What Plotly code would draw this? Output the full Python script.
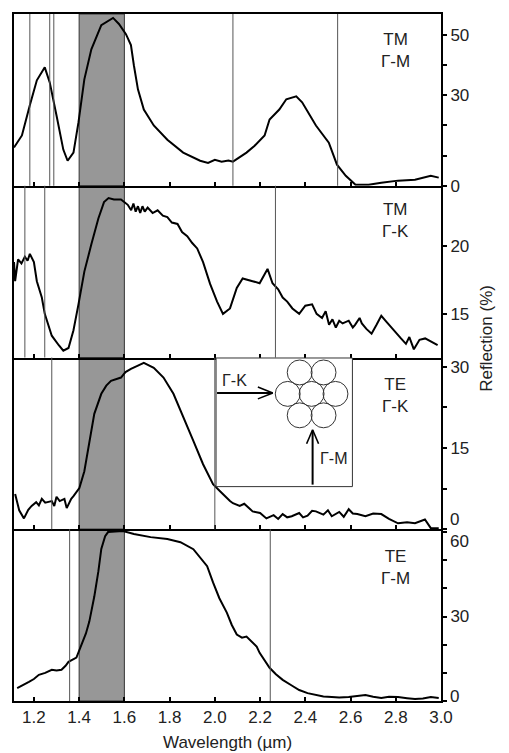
import plotly.graph_objects as go
from plotly.subplots import make_subplots

# ---------------- data ----------------
wl1 = [1.112, 1.147, 1.182, 1.213, 1.248, 1.27, 1.30, 1.33, 1.349, 1.375, 1.397, 1.423, 1.454, 1.498,
       1.55, 1.576, 1.607, 1.629, 1.642, 1.66, 1.686, 1.73, 1.79, 1.86, 1.935, 1.97, 2.0, 2.03, 2.06,
       2.08, 2.14, 2.176, 2.22, 2.242, 2.285, 2.316, 2.36, 2.386, 2.447, 2.504, 2.54, 2.579, 2.622,
       2.68, 2.736, 2.81, 2.885, 2.955, 2.99]
r1 = [12.7, 16.7, 26.7, 35.0, 39.3, 34.3, 23.3, 12.0, 8.3, 11.0, 21.0, 35.3, 45.3, 53.3,
      55.7, 53.7, 50.3, 46.7, 40.0, 32.0, 25.3, 20.0, 15.3, 11.0, 8.3, 7.6, 8.6, 8.0, 8.4,
      8.0, 11.0, 13.3, 16.7, 22.0, 25.3, 28.7, 29.7, 27.7, 20.0, 14.3, 7.0, 3.3, 0.3,
      0.3, 1.0, 1.7, 2.0, 3.3, 2.7]

wl2 = [1.112, 1.117, 1.13, 1.145, 1.16, 1.172, 1.182, 1.2, 1.213, 1.235, 1.248, 1.27, 1.279, 1.31,
       1.33, 1.353, 1.366, 1.375, 1.397, 1.423, 1.454, 1.485, 1.51, 1.53, 1.554, 1.585, 1.615,
       1.63, 1.64, 1.65, 1.66, 1.67, 1.68, 1.69, 1.703, 1.725, 1.747, 1.77, 1.79, 1.81, 1.835,
       1.855, 1.878, 1.9, 1.922, 1.948, 1.979, 2.01, 2.036, 2.067, 2.097, 2.123, 2.167, 2.198,
       2.233, 2.255, 2.28, 2.3, 2.32, 2.343, 2.373, 2.4, 2.43, 2.45, 2.474, 2.49, 2.505, 2.52,
       2.535, 2.55, 2.565, 2.592, 2.61, 2.62, 2.64, 2.65, 2.67, 2.693, 2.715, 2.736, 2.76, 2.78,
       2.8, 2.823, 2.845, 2.86, 2.88, 2.905, 2.93, 2.96, 2.985]
r2 = [18.8, 17.4, 19.0, 18.7, 19.2, 18.9, 19.4, 18.8, 17.4, 16.2, 15.0, 13.8, 13.4, 12.7,
      12.3, 12.5, 13.3, 13.8, 15.7, 18.1, 20.1, 22.0, 23.2, 23.5, 23.4, 23.4, 23.0,
      22.6, 23.1, 22.5, 22.9, 22.4, 22.9, 22.5, 22.8, 22.4, 22.6, 22.2, 22.1, 21.7, 21.6,
      21.0, 20.7, 20.2, 19.8, 18.8, 17.2, 15.9, 15.0, 15.4, 16.9, 17.6, 17.4, 17.25,
      18.3, 17.25, 16.8, 16.2, 15.9, 15.4, 15.0, 15.6, 15.7, 15.0, 14.7, 15.2, 14.2, 14.6,
      14.0, 14.5, 14.3, 14.5, 14.0, 14.2, 14.7, 14.3, 13.9, 13.55, 14.2, 14.86, 14.4, 14.0,
      13.6, 13.2, 12.8, 13.3, 12.4, 13.1, 13.2, 12.9, 12.7]

wl3 = [1.117, 1.135, 1.156, 1.175, 1.19, 1.21, 1.222, 1.235, 1.25, 1.26, 1.279, 1.29, 1.3, 1.314,
       1.335, 1.345, 1.353, 1.365, 1.375, 1.401, 1.423, 1.445, 1.467, 1.498, 1.52, 1.541, 1.585,
       1.605, 1.629, 1.66, 1.686, 1.73, 1.773, 1.817, 1.86, 1.905, 1.948, 1.992, 2.023, 2.05,
       2.067, 2.08, 2.11, 2.13, 2.154, 2.167, 2.2, 2.228, 2.26, 2.28, 2.3, 2.32, 2.34, 2.373,
       2.39, 2.41, 2.43, 2.447, 2.48, 2.5, 2.517, 2.55, 2.57, 2.592, 2.61, 2.63, 2.666, 2.7,
       2.736, 2.77, 2.81, 2.85, 2.885, 2.929, 2.955, 2.99]
r3 = [6.5, 3.5, 2.0, 3.6, 4.3, 5.0, 4.4, 5.6, 4.9, 5.0, 5.2, 4.3, 6.0, 5.2,
      5.6, 3.9, 4.6, 5.6, 6.1, 7.6, 10.7, 16.3, 21.3, 25.0, 26.5, 27.4, 28.0,
      29.0, 29.6, 30.2, 30.7, 29.8, 28.0, 25.0, 20.6, 16.3, 12.0, 8.3, 7.0, 5.8,
      5.2, 4.8, 4.3, 4.7, 3.9, 3.3, 3.0, 2.0, 2.6, 1.9, 2.8, 2.2, 2.4, 3.0,
      2.2, 2.5, 3.4, 3.3, 2.7, 3.5, 2.4, 3.2, 2.3, 3.7, 2.9, 2.8, 2.4, 2.9,
      2.8, 1.9, 1.1, 1.3, 1.1, 1.8, 0.2, 0.2]

wl4 = [1.126, 1.15, 1.178, 1.2, 1.222, 1.25, 1.279, 1.3, 1.322, 1.34, 1.353, 1.388, 1.41, 1.43,
       1.445, 1.467, 1.485, 1.498, 1.515, 1.528, 1.56, 1.594, 1.642, 1.716, 1.79, 1.848, 1.905,
       1.945, 1.966, 1.992, 2.02, 2.053, 2.075, 2.097, 2.12, 2.14, 2.165, 2.185, 2.198, 2.242,
       2.27, 2.3, 2.34, 2.373, 2.41, 2.447, 2.48, 2.517, 2.55, 2.592, 2.63, 2.666, 2.7, 2.736,
       2.77, 2.81, 2.85, 2.885, 2.92, 2.955, 2.99]
r4 = [4.6, 5.5, 6.8, 7.8, 9.3, 10.0, 11.1, 10.8, 11.1, 12.5, 13.9, 15.4, 20.0, 24.0,
      28.2, 37.1, 46.0, 54.0, 58.5, 60.0, 60.2, 60.4, 59.3, 58.2, 57.5, 56.4, 53.9,
      50.0, 47.9, 42.1, 36.5, 31.4, 27.0, 23.6, 22.5, 22.9, 21.0, 19.3, 17.1, 11.8,
      9.5, 7.5, 5.5, 3.9, 2.8, 2.1, 1.6, 1.4, 1.2, 1.4, 1.8, 2.1, 1.5, 1.1,
      1.5, 1.4, 1.0, 0.7, 0.9, 1.4, 1.1]

# vertical marker lines (µm) per panel
vlines1 = [1.182, 1.27, 1.288, 2.08, 2.543]
vlines2 = [1.16, 1.248, 2.268]
vlines3 = [1.279, 2.0]
vlines4 = [1.358, 2.245]

band = [1.4, 1.6]
panel_labels = ["TM<br>Γ-M", "TM<br>Γ-K", "TE<br>Γ-K", "TE<br>Γ-M"]
x_ticks = [1.2, 1.4, 1.6, 1.8, 2.0, 2.2, 2.4, 2.6, 2.8, 3.0]
y_ranges = [[0, 57], [11.8, 24.4], [0, 31.7], [0, 61]]
y_tickvals = [[0, 10, 20, 30, 40, 50], [15, 20], [0, 7.5, 15, 22.5, 30], [0, 10, 20, 30, 40, 50, 60]]
y_ticktext = [["0", "", "", "30", "", "50"], ["15", "20"], ["", "", "15", "", "30"],
              ["", "", "", "30", "", "", ""]]
# tick labels drawn as shifted text: (panel, value, label, yshift px)
shifted_labels = [(3, 0, "0", 10), (4, 60, "60", -9), (4, 0, "0", 5)]

assert len(wl1) == len(r1) and len(wl2) == len(r2) and len(wl3) == len(r3) and len(wl4) == len(r4)

# ---------------- figure ----------------
W, H = 509, 753
ML, MR, MT, MB = 12, 68, 12, 52
PW, PH = W - ML - MR, H - MT - MB
FONT = "Arial, Liberation Sans, Helvetica, sans-serif"
TXT = "#222"


def X(px):
    return (px - ML) / PW


def Y(py):
    return (H - MB - py) / PH


fig = make_subplots(rows=4, cols=1, shared_xaxes=True, vertical_spacing=0)

series = [(wl1, r1), (wl2, r2), (wl3, r3), (wl4, r4)]
vls = [vlines1, vlines2, vlines3, vlines4]

for i, (wl, r) in enumerate(series):
    row = i + 1
    fig.add_trace(go.Scatter(x=wl, y=r, mode="lines", line=dict(color="black", width=2),
                             showlegend=False, hoverinfo="skip"), row=row, col=1)
    for v in vls[i]:
        fig.add_vline(x=v, line=dict(color="#555", width=1), row=row, col=1)
    fig.update_yaxes(range=y_ranges[i], tickvals=y_tickvals[i], ticktext=y_ticktext[i],
                     side="right", showline=True, linecolor="black", linewidth=2, mirror=True,
                     ticks="outside", ticklen=4, tickwidth=1.5, tickcolor="black",
                     showgrid=False, zeroline=False, row=row, col=1,
                     tickfont=dict(family=FONT, size=17, color=TXT))
    fig.update_xaxes(range=[1.112, 3.0], tickvals=x_ticks, showline=True, linecolor="black",
                     linewidth=2, mirror=(row == 1), ticks="inside", ticklen=4,
                     tickwidth=1.5, tickcolor="black", showgrid=False, zeroline=False,
                     showticklabels=(row == 4), row=row, col=1,
                     tickfont=dict(family=FONT, size=17, color=TXT), tickformat=".1f")

# shaded band
fig.add_vrect(x0=band[0], x1=band[1], row="all", col=1, fillcolor="#979797", opacity=1,
              layer="below", line=dict(color="#333", width=1))

annotations = []
label_y = [49, 219, 395, 567]
for i, txt in enumerate(panel_labels):
    annotations.append(dict(text=txt, xref="paper", yref="paper", x=X(395), y=Y(label_y[i]),
                            showarrow=False, xanchor="center", yanchor="middle",
                            font=dict(family=FONT, size=17, color=TXT)))

for panel, val, txt, ys in shifted_labels:
    yref = "y" if panel == 1 else f"y{panel}"
    annotations.append(dict(text=txt, xref="paper", yref=yref, x=1, y=val, xanchor="left",
                            yanchor="middle", xshift=7, yshift=ys, showarrow=False,
                            font=dict(family=FONT, size=17, color=TXT)))

annotations.append(dict(text="Wavelength (µm)", xref="paper", yref="paper", x=0.5, y=Y(743),
                        showarrow=False, xanchor="center", yanchor="middle",
                        font=dict(family=FONT, size=17, color=TXT)))
annotations.append(dict(text="Reflection (%)", xref="paper", yref="paper", x=X(486), y=Y(337),
                        showarrow=False, textangle=-90, xanchor="center", yanchor="middle",
                        font=dict(family=FONT, size=17, color=TXT)))

# inset schematic (pixel-positioned decoration)
shapes = []
shapes.append(dict(type="rect", xref="paper", yref="paper", x0=X(215), x1=X(352), y0=Y(486), y1=Y(357),
                   line=dict(color="#333", width=1), fillcolor="white", layer="above"))
hex_centers = [(-0.5, -1), (0.5, -1), (-1, 0), (0, 0), (1, 0), (-0.5, 1), (0.5, 1)]
cx, cy, step, rowstep, rad = 311, 393, 24, 21.5, 12.5
for hx, hy in hex_centers:
    px, py = cx + hx * step, cy + hy * rowstep
    shapes.append(dict(type="circle", xref="paper", yref="paper", x0=X(px - rad), x1=X(px + rad),
                       y0=Y(py + rad), y1=Y(py - rad), line=dict(color="#333", width=1), layer="above"))


def seg(p, q, w=2):
    return dict(type="line", xref="paper", yref="paper", x0=X(p[0]), y0=Y(p[1]), x1=X(q[0]), y1=Y(q[1]),
                line=dict(color="black", width=w), layer="above")


# Γ-K arrow (horizontal) and Γ-M arrow (vertical)
shapes += [seg((216, 392), (271, 392)), seg((257, 386), (272, 392), 1.6), seg((257, 398), (272, 392), 1.6)]
shapes += [seg((312, 484), (312, 430)), seg((306, 443), (312, 429), 1.6), seg((318, 443), (312, 429), 1.6)]
for s in shapes:
    fig.add_shape(**s)

annotations.append(dict(text="Γ-K", x=X(234), y=Y(380), xref="paper", yref="paper", showarrow=False,
                        xanchor="center", yanchor="middle", font=dict(family=FONT, size=16, color=TXT)))
annotations.append(dict(text="Γ-M", x=X(333), y=Y(458), xref="paper", yref="paper", showarrow=False,
                        xanchor="center", yanchor="middle", font=dict(family=FONT, size=16, color=TXT)))

fig.update_layout(width=W, height=H, margin=dict(l=ML, r=MR, t=MT, b=MB),
                  plot_bgcolor="white", paper_bgcolor="white", annotations=annotations,
                  showlegend=False)

fig.write_html("out.html")
